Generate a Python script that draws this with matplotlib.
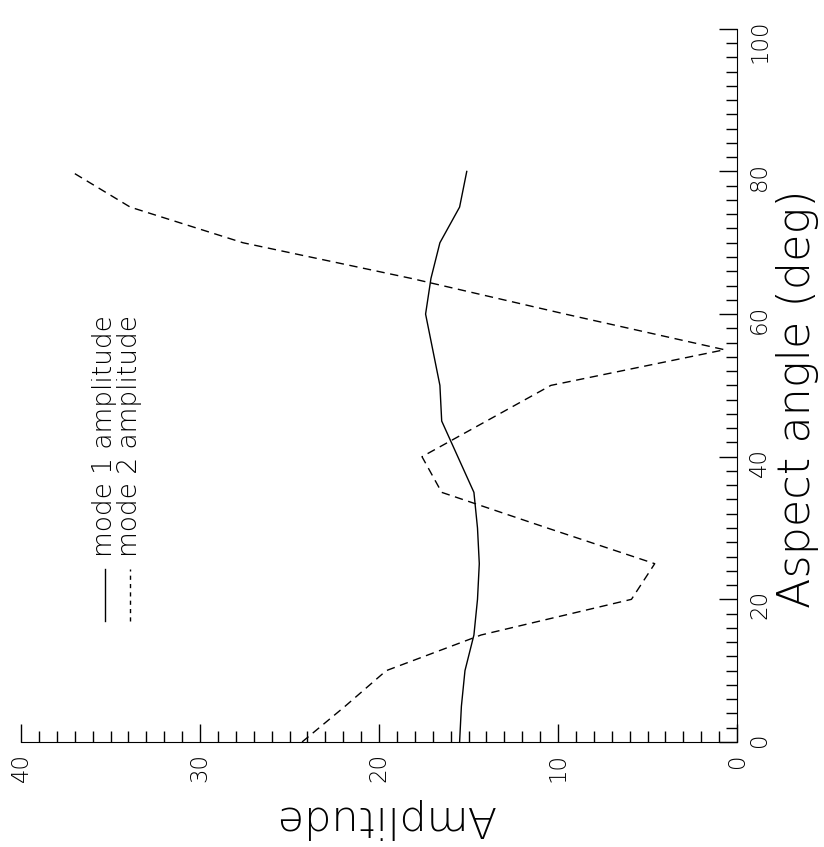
import matplotlib
matplotlib.use('Agg')
import matplotlib.pyplot as plt
from matplotlib.ticker import MultipleLocator

# aspect angle (deg) and the two mode amplitudes
angle = [0, 5, 10, 15, 20, 25, 30, 35, 40, 45, 50, 55, 60, 65, 70, 75, 80]
mode1 = [15.5, 15.4, 15.2, 14.7, 14.5, 14.4, 14.5, 14.7, 15.6, 16.5, 16.6,
         17.0, 17.4, 17.1, 16.6, 15.5, 15.1]
mode2 = [24.3, 21.9, 19.6, 14.3, 5.9, 4.6, 10.6, 16.5, 17.6, 14.0, 10.4,
         0.7, 9.6, 18.2, 27.6, 33.9, 37.2]
labels = ['mode 1 amplitude', 'mode 2 amplitude']

plt.rcParams['font.family'] = 'DejaVu Sans'
plt.rcParams['font.weight'] = 'light'
fig = plt.figure(figsize=(8.24, 8.47), dpi=100)
# the whole plot is turned a quarter turn: amplitude runs along the bottom
# (40 on the left, 0 on the right), aspect angle runs up the right side
ax = fig.add_axes([0.0255, 0.124, 0.869, 0.842])

ax.plot(mode1, angle, color='black', lw=1.0)
ax.plot(mode2, angle, color='black', lw=1.0, dashes=(6, 4))

ax.set_xlim(40, 0)
ax.set_ylim(0, 100)

ax.spines['top'].set_visible(False)
ax.spines['left'].set_visible(False)
ax.yaxis.tick_right()

ax.xaxis.set_major_locator(MultipleLocator(10))
ax.xaxis.set_minor_locator(MultipleLocator(1))
ax.yaxis.set_major_locator(MultipleLocator(20))
ax.yaxis.set_minor_locator(MultipleLocator(2))

ax.tick_params(which='major', direction='in', length=13, width=1.0)
ax.tick_params(which='minor', direction='in', length=8, width=1.0)
ax.tick_params(axis='x', labelrotation=90, labelsize=16.5, pad=8)
ax.tick_params(axis='y', labelrotation=90, labelsize=16.5, pad=8)

# axis titles
ax.text(0.508, -0.107, 'Amplitude', rotation=180, fontsize=31,
        ha='center', va='center', transform=ax.transAxes)
ax.text(1.084, 0.482, 'Aspect angle (deg)', rotation=90, fontsize=32,
        ha='center', va='center', transform=ax.transAxes)

# legend drawn sideways like the rest of the figure
ax.plot([0.117, 0.117], [0.17, 0.243], color='black', lw=1.0,
        transform=ax.transAxes)
ax.plot([0.152, 0.152], [0.17, 0.243], color='black', lw=1.0, dashes=(3, 3),
        transform=ax.transAxes)
ax.text(0.117, 0.259, labels[0], rotation=90, fontsize=19,
        ha='left', va='center', rotation_mode='anchor', transform=ax.transAxes)
ax.text(0.152, 0.259, labels[1], rotation=90, fontsize=19,
        ha='left', va='center', rotation_mode='anchor', transform=ax.transAxes)

fig.savefig('out.png', dpi=100)
